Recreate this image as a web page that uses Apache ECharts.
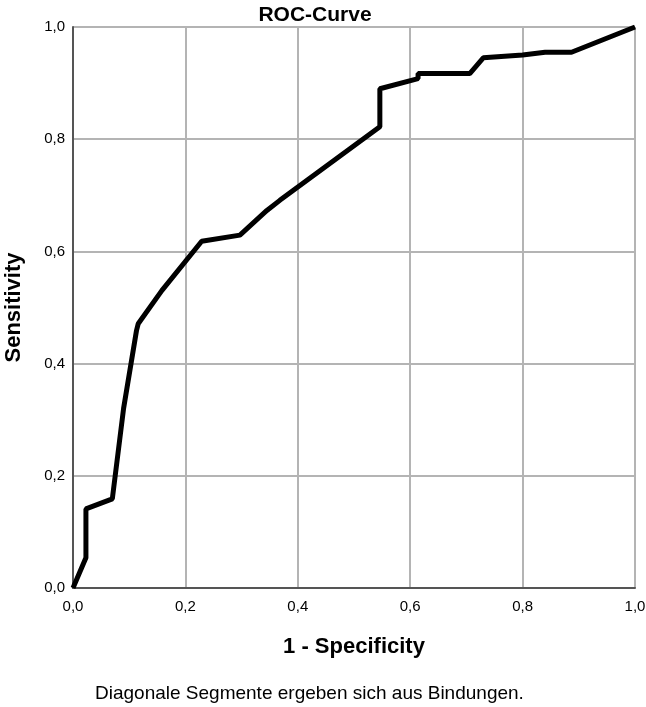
<!DOCTYPE html>
<html>
<head>
<meta charset="utf-8">
<script src="https://cdn.jsdelivr.net/npm/echarts@6/dist/echarts.min.js"></script>
<style>
html,body{margin:0;padding:0;background:#fff;}
#main{width:646px;height:707px;}
</style>
</head>
<body>
<div id="main"></div>
<script>
// ROC curve points: 1 - specificity / sensitivity
var fpr = [0, 0.023, 0.023, 0.07, 0.09, 0.113, 0.116, 0.158, 0.229, 0.297, 0.345, 0.368, 0.546, 0.546, 0.614, 0.614, 0.706, 0.73, 0.80, 0.84, 0.887, 1.0];
var tpr = [0, 0.054, 0.141, 0.159, 0.32, 0.459, 0.471, 0.530, 0.618, 0.629, 0.673, 0.691, 0.822, 0.890, 0.908, 0.917, 0.917, 0.945, 0.950, 0.955, 0.955, 1.0];
var tickLabels = ['0,0', '0,2', '0,4', '0,6', '0,8', '1,0'];

var fnt = 'Liberation Sans, Arial, sans-serif';

(function(){
    var points = [];
    for (var i = 0; i < fpr.length; i++) {
        points.push([fpr[i], tpr[i]]);
    }
    function fmt(v){
        return tickLabels[Math.round(v * 5)] || '';
    }
    var myChart = echarts.init(document.getElementById('main'));
    var option = {
        backgroundColor: '#fff',
        animation: false,
        title: {
            text: 'ROC-Curve',
            left: 310,
            top: 0,
            textAlign: 'center',
            textStyle: {fontFamily: fnt, fontSize: 21, fontWeight: 'bold', color: '#000'}
        },
        grid: {left: 73, right: 11, top: 27, bottom: 119, containLabel: false, outerBoundsMode: 'none'},
        xAxis: {
            type: 'value',
            min: 0, max: 1, interval: 0.2,
            name: '1 - Specificity',
            nameLocation: 'middle',
            nameGap: 48,
            nameTextStyle: {fontFamily: fnt, fontSize: 22, fontWeight: 'bold', color: '#000'},
            axisLine: {show: true, lineStyle: {color: '#555', width: 2}},
            axisTick: {show: false},
            axisLabel: {formatter: fmt, fontFamily: fnt, fontSize: 15, color: '#000', margin: 11},
            splitLine: {show: true, lineStyle: {color: '#b4b4b4', width: 2}}
        },
        yAxis: {
            type: 'value',
            min: 0, max: 1, interval: 0.2,
            name: 'Sensitivity',
            nameLocation: 'middle',
            nameGap: 48,
            nameTextStyle: {fontFamily: fnt, fontSize: 22, fontWeight: 'bold', color: '#000'},
            axisLine: {show: true, lineStyle: {color: '#555', width: 2}},
            axisTick: {show: false},
            axisLabel: {formatter: fmt, fontFamily: fnt, fontSize: 15, color: '#000', margin: 8},
            splitLine: {show: true, lineStyle: {color: '#b4b4b4', width: 2}}
        },
        graphic: [
            {
                type: 'text',
                left: 95,
                top: 684,
                style: {
                    text: 'Diagonale Segmente ergeben sich aus Bindungen.',
                    fontFamily: fnt, fontSize: 19, fill: '#000'
                }
            }
        ],
        series: [
            {
                type: 'line',
                data: points,
                showSymbol: false,
                symbol: 'none',
                lineStyle: {color: '#000', width: 5},
                z: 5
            }
        ]
    };
    myChart.setOption(option);
})();
</script>
</body>
</html>
